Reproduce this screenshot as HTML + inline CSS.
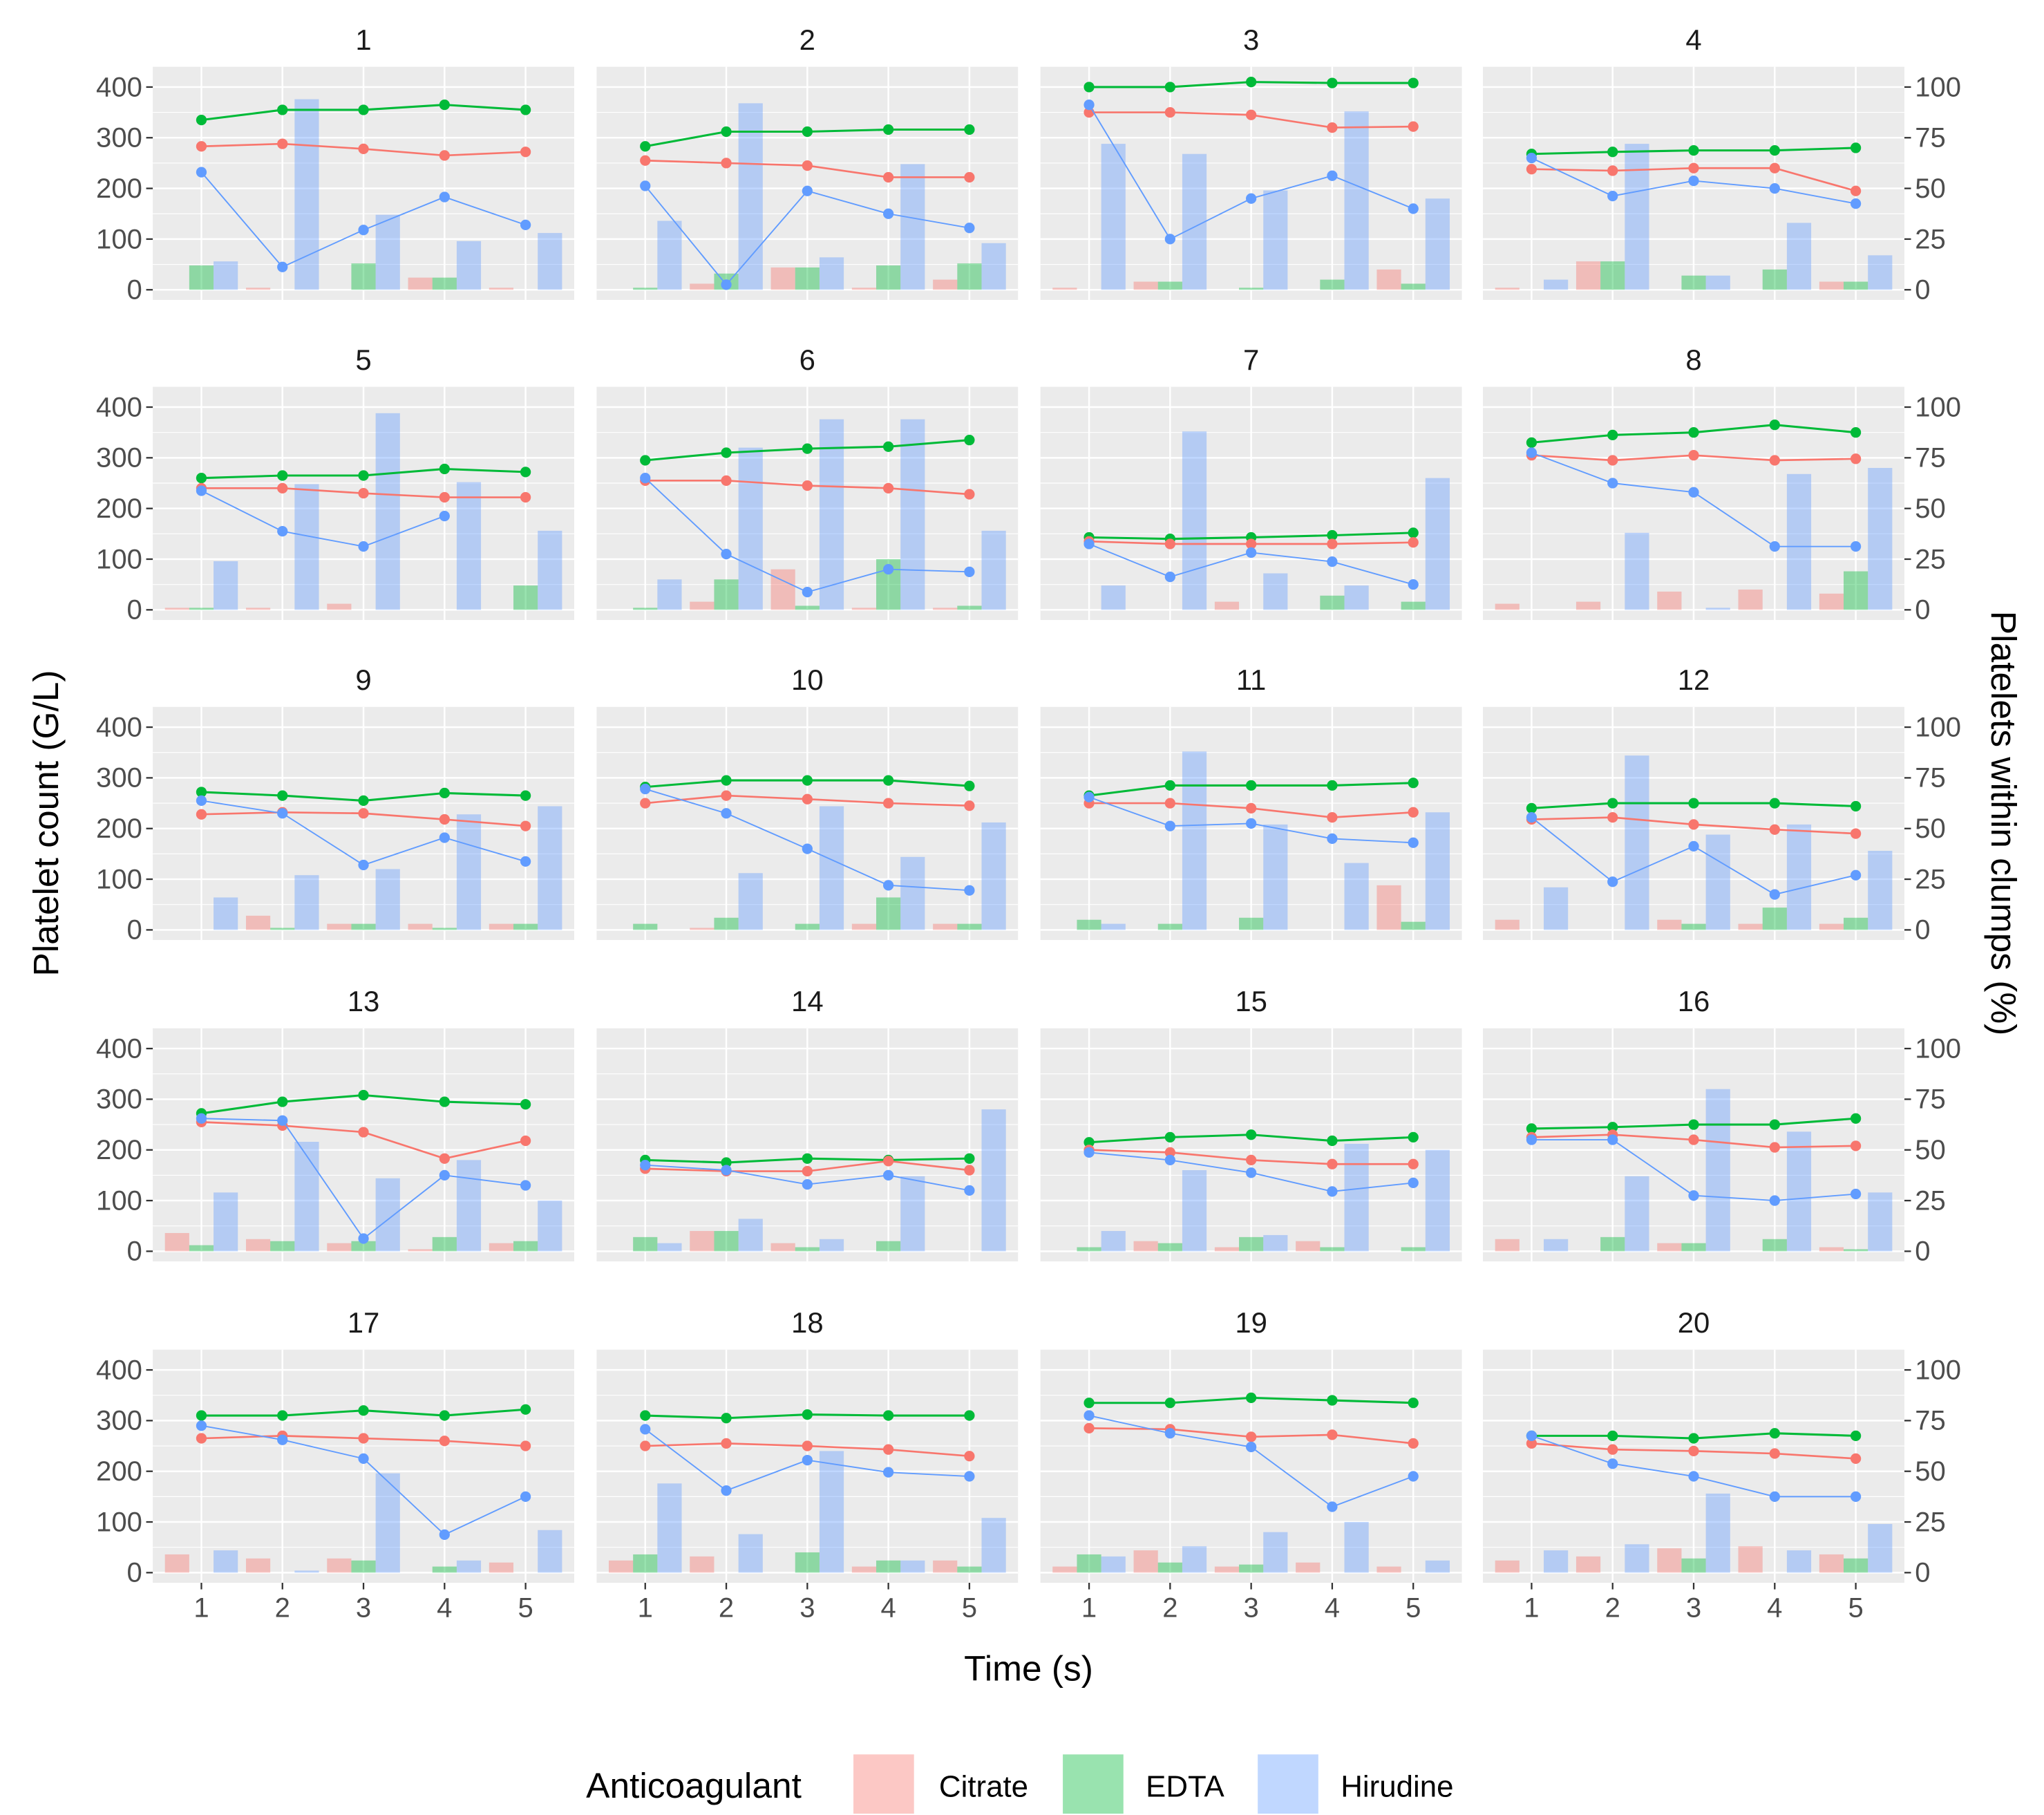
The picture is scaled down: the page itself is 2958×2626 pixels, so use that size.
<!DOCTYPE html>
<html><head><meta charset="utf-8"><style>
html,body{margin:0;padding:0;background:#fff}
svg{display:block;font-family:"Liberation Sans",sans-serif}
</style></head><body>
<svg id="chart" width="2958" height="2626" viewBox="0 0 1552 1378" preserveAspectRatio="none" xmlns="http://www.w3.org/2000/svg">
<g id="panels"></g>
<text transform="translate(44,625) rotate(-90)" text-anchor="middle" font-size="27" fill="#000">Platelet count (G/L)</text>
<text transform="translate(1512,625) rotate(90)" text-anchor="middle" font-size="27" fill="#000">Platelets within clumps (%)</text>
<text x="781" y="1276" text-anchor="middle" font-size="27" fill="#000">Time (s)</text>
<g>
<text x="445" y="1365" font-size="27">Anticoagulant</text>
<rect x="648" y="1332" width="46" height="45" fill="#F8766D" fill-opacity="0.4"/>
<text x="713" y="1364" font-size="23">Citrate</text>
<rect x="807" y="1332" width="46" height="45" fill="#00BA38" fill-opacity="0.4"/>
<text x="870" y="1364" font-size="23">EDTA</text>
<rect x="955" y="1332" width="46" height="45" fill="#619CFF" fill-opacity="0.4"/>
<text x="1018" y="1364" font-size="23">Hirudine</text>
</g>
</svg>
<script>
const times=[1,2,3,4,5];
const yTicks=[0,100,200,300,400];
const y2TickLabels=["0","25","50","75","100"];
const citrateCount=[[283,288,278,265,272],[255,250,245,222,222],[350,350,345,320,322],[238,235,240,240,195],[240,240,230,222,222],[255,255,245,240,228],[135,130,130,130,133],[305,295,305,295,298],[228,232,230,218,205],[250,265,258,250,245],[250,250,240,222,232],[218,222,208,198,190],[255,248,235,183,218],[163,158,158,178,160],[200,195,180,172,172],[225,230,220,205,208],[265,270,265,260,250],[250,255,250,243,230],[285,283,268,272,255],[255,243,240,235,225]];
const edtaCount=[[335,355,355,365,355],[283,312,312,316,316],[400,400,410,408,408],[268,272,275,275,280],[260,265,265,278,272],[295,310,318,322,335],[143,140,143,147,152],[330,345,350,365,350],[272,265,255,270,265],[282,295,295,295,284],[265,285,285,285,290],[240,250,250,250,244],[272,295,308,295,290],[180,175,183,180,183],[215,225,230,218,225],[242,245,250,250,262],[310,310,320,310,322],[310,305,312,310,310],[335,335,345,340,335],[270,270,265,275,270]];
const hirudineCount=[[232,45,118,183,128],[205,10,195,150,122],[365,100,180,225,160],[260,185,215,200,170],[235,155,125,185,null],[260,110,35,80,75],[130,65,113,95,50],[310,250,232,125,125],[255,230,128,182,135],[278,230,160,88,78],[262,205,210,180,172],[222,95,165,70,108],[262,258,25,150,130],[170,160,132,150,120],[195,180,155,118,135],[220,220,110,100,113],[290,262,225,75,150],[283,162,222,198,190],[310,275,248,130,190],[270,215,190,150,150]];
const citratePct=[[0,1,0,6,1],[0,3,11,1,5],[1,4,0,0,10],[1,14,0,0,4],[1,1,3,0,0],[0,4,20,1,1],[0,0,4,0,0],[3,4,9,10,8],[0,7,3,3,3],[0,1,0,3,3],[0,0,0,0,22],[5,0,5,3,3],[9,6,4,1,4],[0,10,4,0,0],[0,5,2,5,0],[6,0,4,0,2],[9,7,7,0,5],[6,8,0,3,6],[3,11,3,5,3],[6,8,12,13,9]];
const edtaPct=[[12,0,13,6,0],[1,8,11,12,13],[0,4,1,5,3],[0,14,7,10,4],[1,0,0,0,12],[1,15,2,25,2],[0,0,0,7,4],[0,0,0,0,19],[0,1,3,1,3],[3,6,3,16,3],[5,3,6,0,4],[0,0,3,11,6],[3,5,5,7,5],[7,10,2,5,0],[2,4,7,2,2],[0,7,4,6,1],[0,0,6,3,0],[9,0,10,6,3],[9,5,4,0,0],[0,0,7,0,7]];
const hirudinePct=[[14,94,37,24,28],[34,92,16,62,23],[72,67,49,88,45],[5,72,7,33,17],[24,62,97,63,39],[15,80,94,94,39],[12,88,18,12,65],[0,38,1,67,70],[16,27,30,57,61],[0,28,61,36,53],[3,88,52,33,58],[21,86,47,52,39],[29,54,36,45,25],[4,16,6,37,70],[10,40,8,53,50],[6,37,80,59,29],[11,1,49,6,21],[44,19,60,6,27],[8,13,20,25,6],[11,14,39,11,24]];

const NS="http://www.w3.org/2000/svg";
const root=document.getElementById('panels');
const colors={c:"#F8766D",e:"#00BA38",h:"#619CFF"};
const PW=320,PH=177,X0=[116,453,790,1126],ZERO=[220,463,706,950,1194];
const XMIN=0.4,XMAX=5.6,YMIN=-20,YMAX=440;
function mk(tag,attrs,parent){const el=document.createElementNS(NS,tag);for(const k in attrs)el.setAttribute(k,attrs[k]);parent.appendChild(el);return el;}
for(let p=0;p<20;p++){
  const col=p%4,row=Math.floor(p/4);
  const left=X0[col],top=ZERO[row]-(0-YMIN)/(YMAX-YMIN)*PH-(YMAX/(YMAX-YMIN))*PH+ (0-YMIN)/(YMAX-YMIN)*PH;
  const ptop=ZERO[row]-PH*(YMAX)/(YMAX-YMIN);
  const xs=v=>left+(v-XMIN)/(XMAX-XMIN)*PW;
  const ys=v=>ptop+(YMAX-v)/(YMAX-YMIN)*PH;
  const g=mk('g',{},root);
  
  
  const bg=mk('rect',{x:left,y:ptop,width:PW,height:PH,fill:"#EBEBEB"},g);
  
  
  for(let i=0;i<yTicks.length-1;i++){const m=(yTicks[i]+yTicks[i+1])/2;mk('line',{x1:left,x2:left+PW,y1:ys(m),y2:ys(m),stroke:"#fff","stroke-width":0.6},g);}
  yTicks.forEach(t=>mk('line',{x1:left,x2:left+PW,y1:ys(t),y2:ys(t),stroke:"#fff","stroke-width":1.3},g));
  times.forEach(t=>mk('line',{x1:xs(t),x2:xs(t),y1:ptop,y2:ptop+PH,stroke:"#fff","stroke-width":1.3},g));
  const tt=mk('text',{x:left+PW/2,y:ptop-13,"text-anchor":"middle","font-size":22,fill:"#1A1A1A"},g);
  tt.textContent=String(p+1);
  
  
  const series=[["c",citratePct[p],-0.3],["e",edtaPct[p],0],["h",hirudinePct[p],0.3]];
  series.forEach(([k,vals,off])=>{vals.forEach((v,i)=>{
    const b=mk('rect',{x:xs(times[i]+off-0.15),width:xs(0.3)-xs(0),y:ys(v*4),height:Math.max(0,ys(0)-ys(v*4)),fill:colors[k],"fill-opacity":0.4},g);
    
    
  });});
  const lines=[["e",edtaCount[p],1.6],["c",citrateCount[p],1.4],["h",hirudineCount[p],1.0]];
  lines.forEach(([k,vals,w])=>{
    let d="";vals.forEach((v,i)=>{if(v==null)return;d+=(d?"L":"M")+xs(times[i])+","+ys(v);});
    const l=mk('path',{d:d,fill:"none",stroke:colors[k],"stroke-width":w},g);
    
    
    vals.forEach((v,i)=>{if(v==null)return;
      const c=mk('circle',{cx:xs(times[i]),cy:ys(v),r:4,fill:colors[k]},g);
      
      
    });
  });
  if(col===0){yTicks.forEach(t=>{mk('line',{x1:left-5,x2:left,y1:ys(t),y2:ys(t),stroke:"#333","stroke-width":1.2},g);
    const tx=mk('text',{x:left-8,y:ys(t)+7,"text-anchor":"end","font-size":21,fill:"#4D4D4D"},g);tx.textContent=String(t);
    
    });}
  if(col===3){yTicks.forEach((t,i)=>{mk('line',{x1:left+PW,x2:left+PW+5,y1:ys(t),y2:ys(t),stroke:"#333","stroke-width":1.2},g);
    const tx=mk('text',{x:left+PW+8,y:ys(t)+7,"text-anchor":"start","font-size":21,fill:"#4D4D4D"},g);tx.textContent=y2TickLabels[i];
    
    });}
  if(row===4){times.forEach(t=>{mk('line',{x1:xs(t),x2:xs(t),y1:ptop+PH,y2:ptop+PH+5,stroke:"#333","stroke-width":1.2},g);
    const tx=mk('text',{x:xs(t),y:ptop+PH+26,"text-anchor":"middle","font-size":21,fill:"#4D4D4D"},g);tx.textContent=String(t);
    
    });}
}
</script>
</body></html>
